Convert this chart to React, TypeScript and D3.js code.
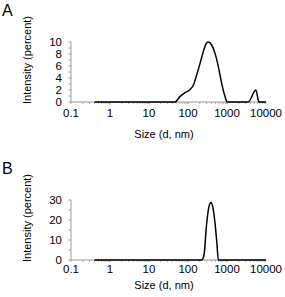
import React from "react";
import * as d3 from "d3";

const sizesA = [0.4, 46, 62, 84, 113, 137, 167, 203, 247, 290, 330, 405, 493, 600, 730, 890, 1010, 3500, 5500, 6600, 10000];
const intensA = [0, 0, 0.9, 1.55, 2.1, 2.8, 4.5, 6.4, 8.4, 9.7, 10, 9.5, 8.1, 5.9, 3.1, 0.9, 0, 0, 2, 0, 0];
const sizesB = [0.4, 225, 257, 300, 345, 390, 430, 493, 550, 600, 10000];
const intensB = [0, 0, 2.5, 18, 26.7, 28.7, 26.7, 18.5, 8.5, 0, 0];
const xTicks = [0.1, 1, 10, 100, 1000, 10000];
const xTickLabels = ["0.1", "1", "10", "100", "1000", "10000"];
const yTicksA = [0, 2, 4, 6, 8, 10];
const yTicksB = [0, 10, 20, 30];

const FONT = "'Liberation Sans', Arial, sans-serif";
const AXIS = "#9a9a9a";

function Panel({ letter, letterY, top, sizes, vals, yMax, yTicks, minorStep, plotH, tickOff, labelOff }: any) {
  const x = d3.scaleLog().domain([0.1, 10000]).range([71, 266]);
  const y = d3.scaleLinear().domain([0, yMax]).range([top + plotH, top]);
  const line = d3
    .line<number>()
    .x((_, i) => x(sizes[i]))
    .y((d) => y(d))
    .curve(d3.curveMonotoneX);
  const minorY = d3.range(0, yMax + 0.001, minorStep);
  const minorX: number[] = [];
  for (let e = -1; e < 4; e++) for (let k = 1; k <= 10; k++) minorX.push(k * Math.pow(10, e));
  const y0 = y(0);
  return (
    <g>
      <text x={2} y={letterY} fontSize={16} fontFamily={FONT}>{letter}</text>
      <text
        transform={`translate(31,${top + plotH / 2 - 12}) rotate(-90)`}
        textAnchor="middle"
        fontSize={11}
        fontFamily={FONT}
      >
        Intensity (percent)
      </text>
      <line x1={71} x2={71} y1={y(yMax)} y2={y0} stroke={AXIS} strokeWidth={1} />
      {minorY.map((t: number) => (
        <line key={"my" + t} x1={68.5} x2={71} y1={y(t)} y2={y(t)} stroke={AXIS} strokeWidth={1} />
      ))}
      {yTicks.map((t: number) => (
        <text key={"yt" + t} x={62} y={y(t)} dy="0.36em" textAnchor="end" fontSize={11.5} fontFamily={FONT}>
          {t}
        </text>
      ))}
      <line x1={71} x2={266} y1={y0} y2={y0} stroke={AXIS} strokeWidth={1} />
      {minorX.map((t, i) => (
        <line key={"mx" + i} x1={x(t)} x2={x(t)} y1={y0} y2={y0 + 2} stroke={AXIS} strokeWidth={0.8} />
      ))}
      {xTicks.map((t, i) => (
        <text key={"xt" + t} x={x(t)} y={y0 + tickOff} textAnchor="middle" fontSize={11.5} fontFamily={FONT}>
          {xTickLabels[i]}
        </text>
      ))}
      <text x={164} y={y0 + labelOff} textAnchor="middle" fontSize={11} fontFamily={FONT}>
        Size (d, nm)
      </text>
      <path d={line(vals) || ""} fill="none" stroke="#000" strokeWidth={1.5} strokeLinejoin="round" />
    </g>
  );
}

export default function App() {
  return (
    <svg
      width={285}
      height={297}
      style={{ position: "absolute", left: 0, top: 0, background: "#fff" }}
    >
      <rect width={285} height={297} fill="#fff" />
      <Panel letter="A" letterY={16} top={42} sizes={sizesA} vals={intensA} yMax={10} yTicks={yTicksA} minorStep={1} plotH={60} tickOff={14.5} labelOff={36} />
      <Panel letter="B" letterY={174} top={200} sizes={sizesB} vals={intensB} yMax={30} yTicks={yTicksB} minorStep={5} plotH={60} tickOff={12.5} labelOff={29} />
    </svg>
  );
}
